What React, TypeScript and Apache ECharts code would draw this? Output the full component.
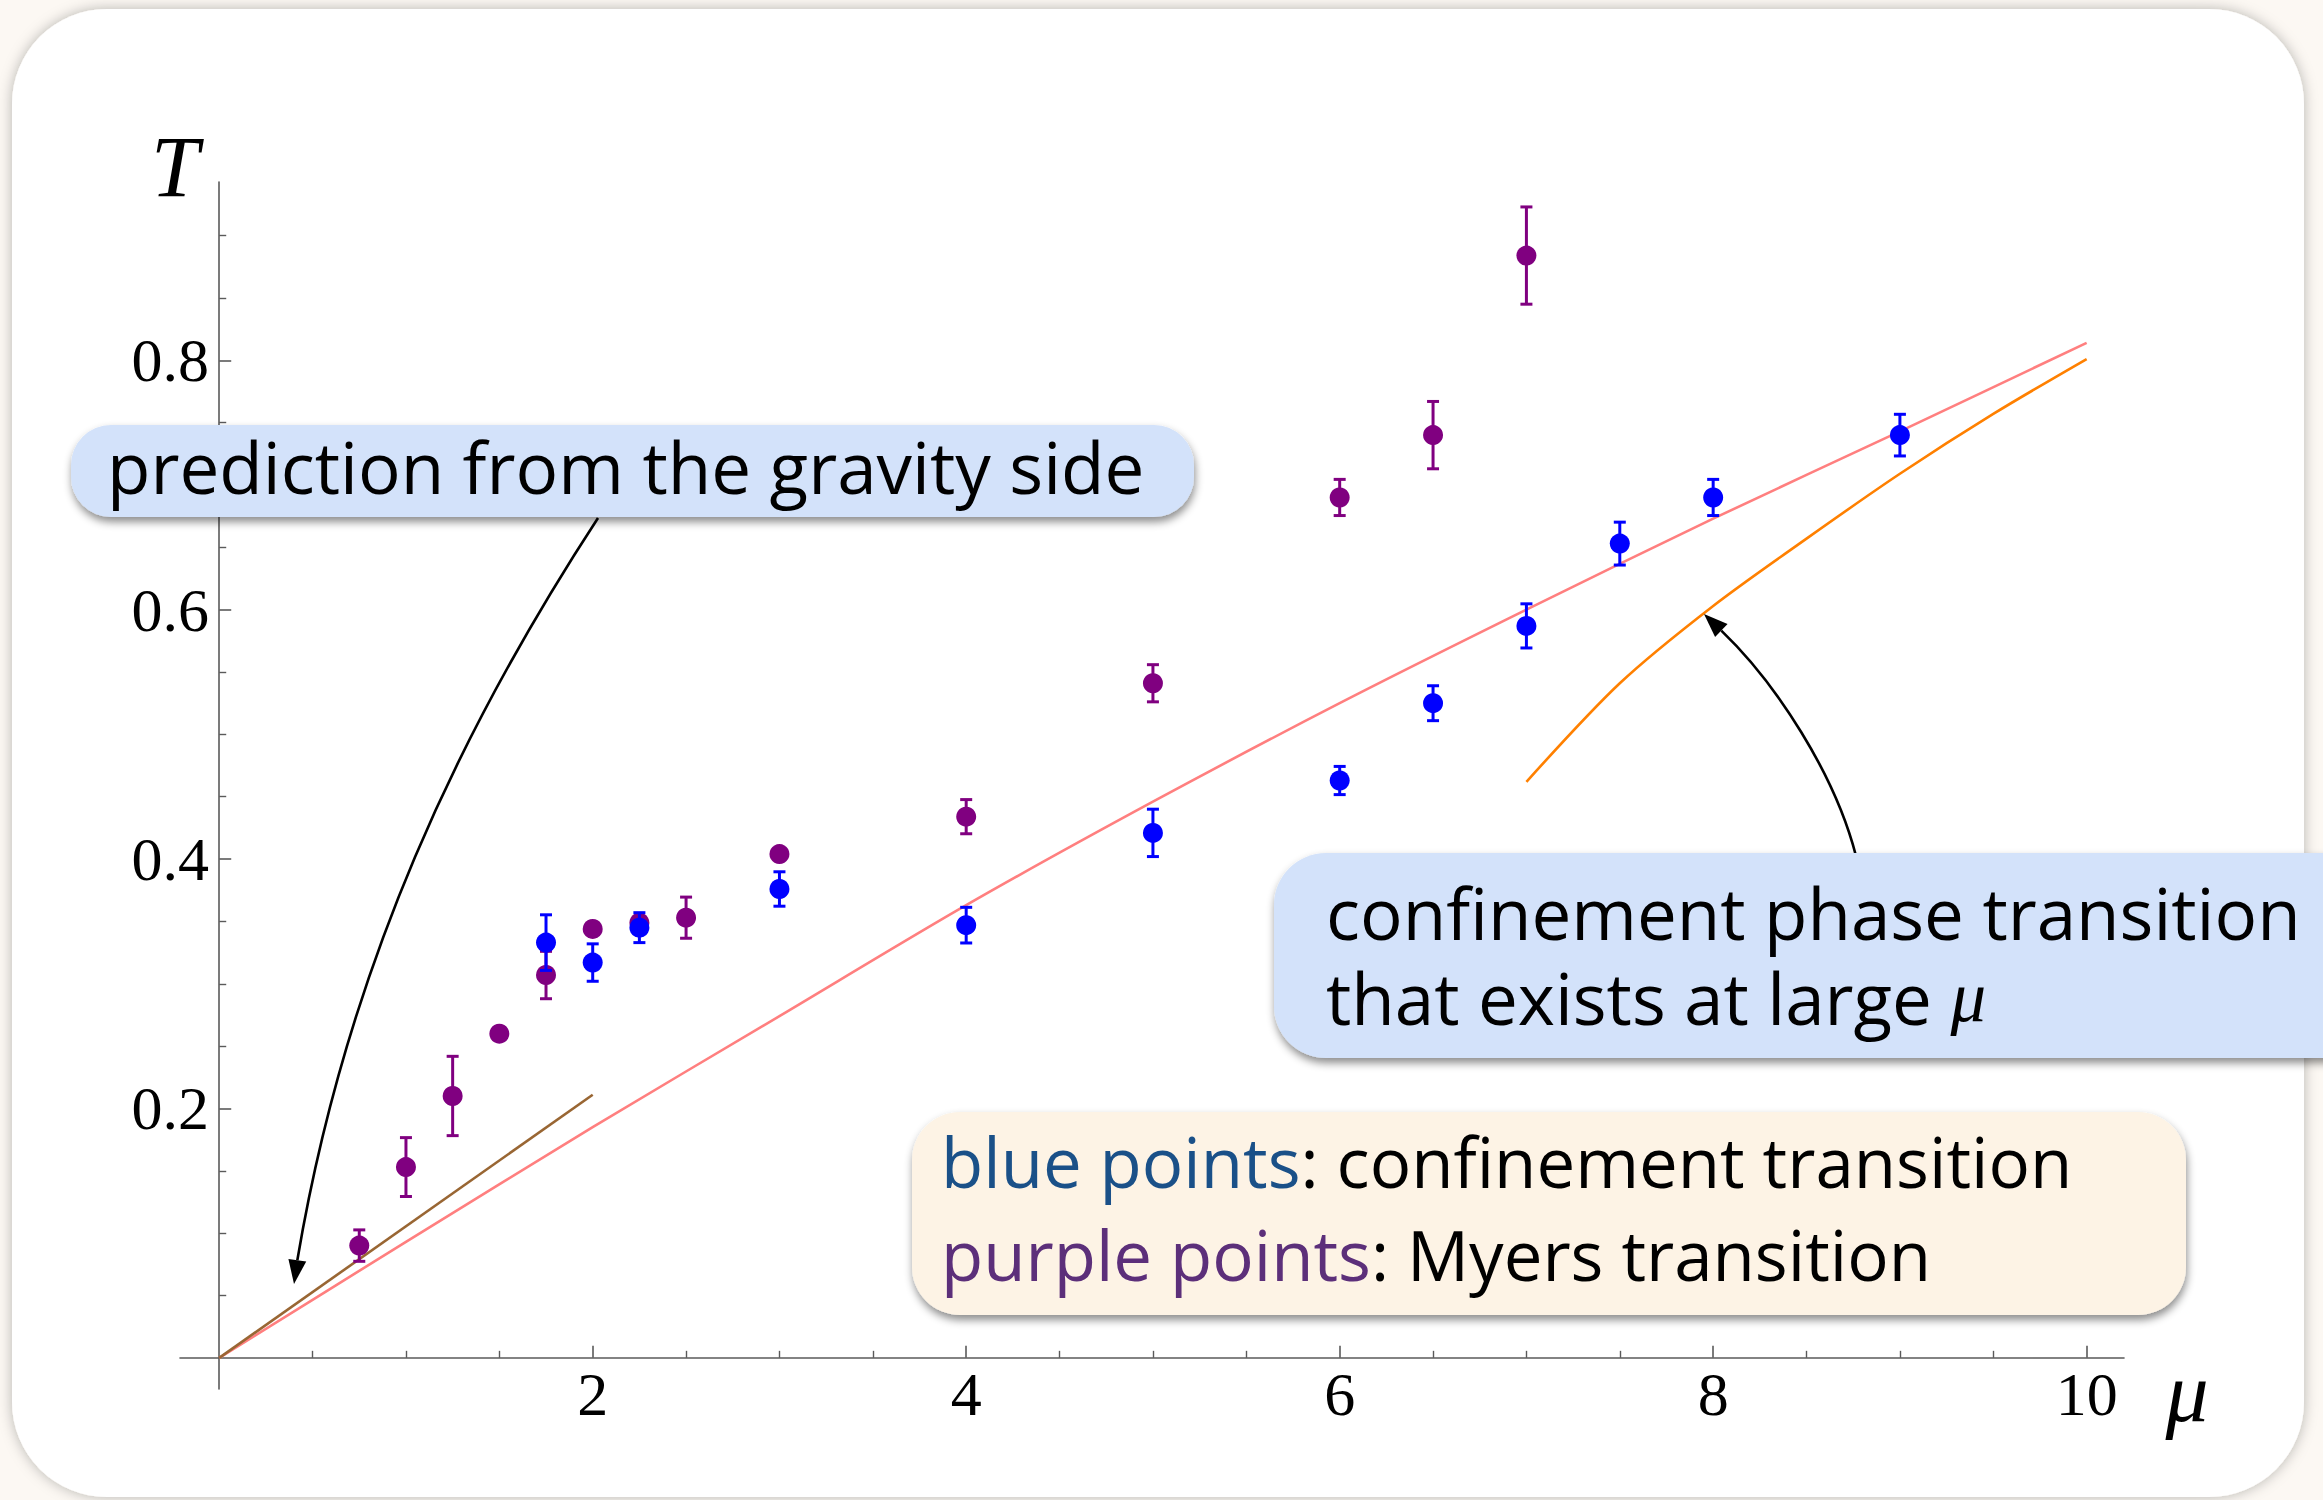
import React, { useEffect, useRef } from "react";
import * as echarts from "echarts";

// ---------- data ----------
const purpleMu = [0.75, 1, 1.25, 1.5, 1.75, 2, 2.25, 2.5, 3, 4, 5, 6, 6.5, 7];
const purpleT = [0.09, 0.153, 0.21, 0.26, 0.307, 0.344, 0.349, 0.353, 0.404, 0.434, 0.541, 0.69, 0.74, 0.884];
const purpleErr = [0.0126, 0.0236, 0.0318, 0, 0.019, 0, 0, 0.0165, 0, 0.0137, 0.0149, 0.0145, 0.027, 0.039];

const blueMu = [1.75, 2, 2.25, 3, 4, 5, 6, 6.5, 7, 7.5, 8, 9];
const blueT = [0.333, 0.317, 0.345, 0.376, 0.347, 0.421, 0.463, 0.525, 0.587, 0.653, 0.69, 0.74];
const blueErr = [0.0223, 0.015, 0.012, 0.0138, 0.0143, 0.019, 0.0113, 0.014, 0.0177, 0.0172, 0.0145, 0.0167];

const gravMu = [0, 1, 2, 3, 4, 5, 6, 7, 8, 9, 10];
const gravT = [0, 0.093, 0.185, 0.274, 0.363, 0.446, 0.525, 0.6, 0.673, 0.743, 0.814];

const smallMu = [0, 2];
const smallT = [0, 0.211];

const confMu = [7, 7.5, 8, 8.5, 9, 9.5, 10];
const confT = [0.462, 0.541, 0.603, 0.657, 0.709, 0.757, 0.801];

const xMajor = [2, 4, 6, 8, 10];
const xMinor = [0.5, 1, 1.5, 2.5, 3, 3.5, 4.5, 5, 5.5, 6.5, 7, 7.5, 8.5, 9, 9.5];
const yMajor = [0.2, 0.4, 0.6, 0.8];
const yMinor = [0.05, 0.1, 0.15, 0.25, 0.3, 0.35, 0.45, 0.5, 0.55, 0.65, 0.7, 0.75, 0.85, 0.9];

const SERIF = "'Liberation Serif', 'DejaVu Serif', serif";
const SANS = "'Open Sans', 'Noto Sans', sans-serif";

function arrowHead(tip: number[], dir: number[], len: number, halfW: number) {
  const n = Math.hypot(dir[0], dir[1]);
  const ux = dir[0] / n, uy = dir[1] / n;
  const bx = tip[0] - ux * len, by = tip[1] - uy * len;
  const px = -uy, py = ux;
  return [
    [tip[0], tip[1]],
    [bx + px * halfW, by + py * halfW],
    [bx - px * halfW, by - py * halfW],
  ];
}

function errSeries(mu: number[], t: number[], err: number[], color: string, z: number) {
  const data = mu
    .map((m, i) => [m, t[i] - err[i], t[i] + err[i], err[i]])
    .filter((d) => d[3] > 0);
  return {
    type: "custom",
    z,
    silent: true,
    clip: false,
    data,
    renderItem: (_p: any, api: any) => {
      const x = api.value(0);
      const lo = api.coord([x, api.value(1)]);
      const hi = api.coord([x, api.value(2)]);
      const cap = 6;
      const st = { stroke: color, lineWidth: 3 };
      return {
        type: "group",
        children: [
          { type: "line", shape: { x1: lo[0], y1: lo[1], x2: hi[0], y2: hi[1] }, style: st },
          { type: "line", shape: { x1: lo[0] - cap, y1: lo[1], x2: lo[0] + cap, y2: lo[1] }, style: st },
          { type: "line", shape: { x1: hi[0] - cap, y1: hi[1], x2: hi[0] + cap, y2: hi[1] }, style: st },
        ],
      };
    },
  };
}

function textLine(x: number, baseline: number, size: number, text: string, rich?: any) {
  return {
    type: "text",
    x,
    y: baseline - 0.388 * size,
    z: 60,
    silent: true,
    style: {
      text,
      font: `${size}px ${SANS}`,
      lineHeight: size,
      fill: "#000",
      align: "left",
      verticalAlign: "middle",
      textAlign: "left",
      textVerticalAlign: "middle",
      rich,
    },
  };
}

export default function App() {
  const ref = useRef<HTMLDivElement>(null);
  useEffect(() => {
    if (!ref.current) return;
    const chart = echarts.init(ref.current, undefined, { renderer: "svg" });
    const axisColor = "#5a5a5a";
    const a1 = arrowHead([294, 1284], [-0.14, 1], 24, 9);
    const a2 = arrowHead([1704, 614], [-0.72, -0.69], 24, 9);
    const a1b = [(a1[1][0] + a1[2][0]) / 2, (a1[1][1] + a1[2][1]) / 2];
    const a2b = [(a2[1][0] + a2[2][0]) / 2, (a2[1][1] + a2[2][1]) / 2];
    const boxShadow = { shadowBlur: 8, shadowOffsetX: 1, shadowOffsetY: 5, shadowColor: "rgba(0,0,0,0.45)" };
    const boxSize = 71;
    const confSize = 66;
    const legSize = 69;
    const tickFont = 62;

    chart.setOption({
      animation: false,
      backgroundColor: "#fcf8f3",
      grid: {
        left: 180,
        top: 182,
        width: 1944,
        height: 1207,
        containLabel: false,
        outerBoundsMode: "none",
      },
      xAxis: [
        {
          type: "value",
          min: -0.21,
          max: 10.2,
          position: "bottom",
          axisLine: { show: true, onZero: true, onZeroAxisIndex: 0, lineStyle: { color: axisColor, width: 1.6 } },
          axisTick: { show: true, inside: true, length: 12, customValues: xMajor, lineStyle: { color: axisColor, width: 1.6 } },
          axisLabel: { show: true, customValues: xMajor, margin: -26, fontFamily: SERIF, fontSize: tickFont, color: "#000" },
          splitLine: { show: false },
        },
        {
          type: "value",
          min: -0.21,
          max: 10.2,
          position: "bottom",
          axisLine: { show: false, onZero: true, onZeroAxisIndex: 0 },
          axisTick: { show: true, inside: true, length: 7, customValues: xMinor, lineStyle: { color: axisColor, width: 1.4 } },
          axisLabel: { show: false },
          splitLine: { show: false },
        },
      ],
      yAxis: [
        {
          type: "value",
          min: -0.025,
          max: 0.943,
          position: "left",
          axisLine: { show: true, onZero: true, onZeroAxisIndex: 0, lineStyle: { color: axisColor, width: 1.6 } },
          axisTick: { show: true, inside: true, length: 12, customValues: yMajor, lineStyle: { color: axisColor, width: 1.6 } },
          axisLabel: { show: true, customValues: yMajor, margin: -29, fontFamily: SERIF, fontSize: tickFont, color: "#000" },
          splitLine: { show: false },
        },
        {
          type: "value",
          min: -0.025,
          max: 0.943,
          position: "left",
          axisLine: { show: false, onZero: true, onZeroAxisIndex: 0 },
          axisTick: { show: true, inside: true, length: 7, customValues: yMinor, lineStyle: { color: axisColor, width: 1.4 } },
          axisLabel: { show: false },
          splitLine: { show: false },
        },
      ],
      series: [
        {
          type: "line",
          z: 2,
          silent: true,
          showSymbol: false,
          symbol: "none",
          smooth: 0.3,
          data: gravMu.map((m, i) => [m, gravT[i]]),
          lineStyle: { color: "#ff7f7f", width: 2.6 },
        },
        {
          type: "line",
          z: 2,
          silent: true,
          symbol: "none",
          data: smallMu.map((m, i) => [m, smallT[i]]),
          lineStyle: { color: "#996633", width: 2.6 },
        },
        {
          type: "line",
          z: 2,
          silent: true,
          symbol: "none",
          smooth: 0.3,
          data: confMu.map((m, i) => [m, confT[i]]),
          lineStyle: { color: "#ff8000", width: 2.6 },
        },
        errSeries(purpleMu, purpleT, purpleErr, "#800080", 3),
        {
          type: "scatter",
          z: 4,
          silent: true,
          symbolSize: 20,
          data: purpleMu.map((m, i) => [m, purpleT[i]]),
          itemStyle: { color: "#800080", opacity: 1 },
        },
        errSeries(blueMu, blueT, blueErr, "#0000ff", 5),
        {
          type: "scatter",
          z: 6,
          silent: true,
          symbolSize: 20,
          data: blueMu.map((m, i) => [m, blueT[i]]),
          itemStyle: { color: "#0000ff", opacity: 1 },
        },
      ],
      graphic: [
        {
          type: "rect",
          z: -100,
          silent: true,
          shape: { x: 12, y: 9, width: 2292, height: 1488, r: 95 },
          style: { fill: "#ffffff", shadowBlur: 14, shadowColor: "rgba(0,0,0,0.28)" },
        },
        {
          type: "text",
          x: 175,
          y: 167,
          z: 10,
          silent: true,
          style: {
            text: "T",
            font: `italic 86px ${SERIF}`,
            fill: "#000",
            align: "center",
            verticalAlign: "middle",
            textAlign: "center",
            textVerticalAlign: "middle",
          },
        },
        {
          type: "text",
          x: 2187,
          y: 1392,
          z: 10,
          silent: true,
          style: {
            text: "μ",
            font: `italic 86px ${SERIF}`,
            fill: "#000",
            align: "center",
            verticalAlign: "middle",
            textAlign: "center",
            textVerticalAlign: "middle",
          },
        },
        // arrow 1 (gravity prediction)
        {
          type: "bezierCurve",
          z: 40,
          silent: true,
          shape: { x1: 598, y1: 518, cpx1: 461, cpy1: 728, cpx2: 347, cpy2: 965, x2: a1b[0], y2: a1b[1] },
          style: { stroke: "#000", lineWidth: 2.6, fill: "none" },
        },
        { type: "polygon", z: 40, silent: true, shape: { points: a1 }, style: { fill: "#000" } },
        // arrow 2 (confinement)
        {
          type: "bezierCurve",
          z: 40,
          silent: true,
          shape: { x1: 1856, y1: 856, cpx1: 1835, cpy1: 774, cpx2: 1776, cpy2: 683, x2: a2b[0], y2: a2b[1] },
          style: { stroke: "#000", lineWidth: 2.6, fill: "none" },
        },
        { type: "polygon", z: 40, silent: true, shape: { points: a2 }, style: { fill: "#000" } },
        // boxes
        {
          type: "rect",
          z: 50,
          silent: true,
          shape: { x: 71, y: 425, width: 1123, height: 92, r: 40 },
          style: { fill: "#d3e2fa", ...boxShadow },
        },
        textLine(107, 494, boxSize, "prediction from the gravity side"),
        {
          type: "rect",
          z: 50,
          silent: true,
          shape: { x: 1274, y: 853, width: 1150, height: 205, r: 52 },
          style: { fill: "#d3e2fa", ...boxShadow },
        },
        {
          type: "text",
          x: 1326,
          y: 938 - 0.388 * confSize,
          z: 60,
          silent: true,
          scaleX: 1.075,
          scaleY: 1.075,
          style: {
            text: "confinement phase transition",
            font: `${confSize}px ${SANS}`,
            lineHeight: confSize,
            fill: "#000",
            align: "left",
            verticalAlign: "middle",
            textAlign: "left",
            textVerticalAlign: "middle",
          },
        },
        {
          type: "text",
          x: 1326,
          y: 1023 - 0.388 * confSize,
          z: 60,
          silent: true,
          scaleX: 1.075,
          scaleY: 1.075,
          style: {
            text: "{a|that exists at large }{m|μ}",
            font: `${confSize}px ${SANS}`,
            lineHeight: confSize,
            fill: "#000",
            align: "left",
            verticalAlign: "middle",
            textAlign: "left",
            textVerticalAlign: "middle",
            rich: {
              a: { font: `${confSize}px ${SANS}`, fill: "#000", lineHeight: confSize },
              m: { font: `italic ${confSize}px ${SERIF}`, fill: "#000", lineHeight: confSize },
            },
          },
        },
        {
          type: "rect",
          z: 50,
          silent: true,
          shape: { x: 912, y: 1112, width: 1274, height: 203, r: 48 },
          style: { fill: "#fdf3e5", ...boxShadow },
        },
        textLine(941, 1188, legSize, "{b|blue points}{k|: confinement transition}", {
          b: { font: `${legSize}px ${SANS}`, fill: "#1a5088", lineHeight: legSize },
          k: { font: `${legSize}px ${SANS}`, fill: "#000", lineHeight: legSize },
        }),
        textLine(941, 1281, legSize, "{p|purple points}{k|: Myers transition}", {
          p: { font: `${legSize}px ${SANS}`, fill: "#5c2f7a", lineHeight: legSize },
          k: { font: `${legSize}px ${SANS}`, fill: "#000", lineHeight: legSize },
        }),
      ],
    });
    return () => chart.dispose();
  }, []);
  return (
    <div
      ref={ref}
      style={{ position: "fixed", left: 0, top: 0, width: 2323, height: 1500 }}
    />
  );
}
